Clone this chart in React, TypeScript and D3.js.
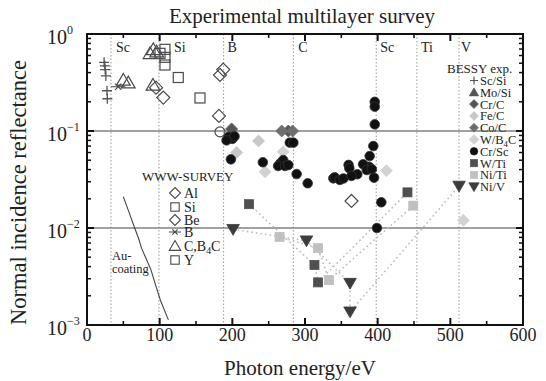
import React from 'react';
import * as d3 from 'd3';

const W = 546, H = 381;
const M = { left: 87, right: 523, top: 34, bottom: 325 };

const xTickValues = [0, 100, 200, 300, 400, 500, 600];
const yDecadeExps = [0, -1, -2, -3];

// absorption edges (eV)
const edgeEnergies = [33, 99, 188, 284, 398, 454, 512];
const edgeLabels = ['Sc', 'Si', 'B', 'C', 'Sc', 'Ti', 'V'];

// WWW-SURVEY (open symbols) [eV, R]
const wwwAl: [number, number][] = [[183, 0.378], [187.5, 0.43], [181.6, 0.143], [364, 0.019]];
const wwwSi: [number, number][] = [[100.5, 0.632], [107.3, 0.575], [107.3, 0.695], [107.3, 0.479], [125.6, 0.356], [155.5, 0.219]];
const wwwBe: [number, number][] = [[105, 0.221], [95, 0.28]];
const wwwB: [number, number][] = [[43, 0.286]];
const wwwCB4C: [number, number][] = [[50, 0.336], [56.8, 0.315], [86.7, 0.632], [91.2, 0.695], [95.9, 0.657], [90.8, 0.298]];
const wwwOther: [number, number][] = [[183, 0.098]];

// Au coating curve
const auE = [50, 55, 60, 65, 71, 75, 81, 88, 95, 101, 112];
const auR = [0.021, 0.0166, 0.0131, 0.0103, 0.0078, 0.0062, 0.0049, 0.0037, 0.0025, 0.0018, 0.00113];

// BESSY experiments [eV, R]
const bScSi: [number, number][] = [[23.5, 0.51], [24.5, 0.47], [25, 0.43], [26, 0.37], [27.5, 0.26], [28, 0.215]];
const bMoSi: [number, number][] = [];
const bCrC: [number, number][] = [[199, 0.105], [277, 0.1]];
const bFeC: [number, number][] = [[236, 0.079], [206, 0.06]];
const bCoC: [number, number][] = [[268, 0.1], [283, 0.1]];
const bWB4C: [number, number][] = [[270, 0.061], [245, 0.038], [412, 0.039], [518, 0.012]];
const bCrSc: [number, number][] = [
  [195, 0.087], [200, 0.083], [203, 0.088], [192, 0.08], [198, 0.051], [242, 0.0476],
  [266, 0.0465], [270, 0.0502], [263, 0.0436], [272.5, 0.0436], [277, 0.0446],
  [279, 0.0758], [284, 0.0758], [288.5, 0.036], [303.7, 0.0289], [339, 0.0325],
  [396, 0.2], [396, 0.178], [396, 0.117], [394, 0.07], [389, 0.0552], [388, 0.0428],
  [380, 0.0454], [385, 0.0396], [392, 0.0404], [395, 0.033], [360, 0.0447], [361, 0.0413],
  [372, 0.0358], [341, 0.0333], [348, 0.0313], [353, 0.0324], [364, 0.0344], [405, 0.0184], [399, 0.01],
];
const bWTi: [number, number][] = [[223, 0.0176], [313, 0.00416], [318, 0.00275], [441, 0.0233]];
const bNiTi: [number, number][] = [[265, 0.0081], [318, 0.0062], [333, 0.0029], [449, 0.017]];
const bNiV: [number, number][] = [[201, 0.0097], [302, 0.0074], [362, 0.0027], [362, 0.00137], [512, 0.0271]];

const wwwLegend = ['Al', 'Si', 'Be', 'B', 'C,B4C', 'Y'];
const bessyLegend = ['Sc/Si', 'Mo/Si', 'Cr/C', 'Fe/C', 'Co/C', 'W/B4C', 'Cr/Sc', 'W/Ti', 'Ni/Ti', 'Ni/V'];

const x = d3.scaleLinear().domain([0, 600]).range([M.left, M.right]);
const y = d3.scaleLog().domain([1e-3, 1]).range([M.bottom, M.top]);

type Shape = 'circle' | 'square' | 'diamond' | 'triUp' | 'triDown' | 'plus' | 'x';

function Marker({ shape, cx, cy, s, fill, stroke, sw = 1.2 }: { shape: Shape; cx: number; cy: number; s: number; fill: string; stroke: string; sw?: number }) {
  switch (shape) {
    case 'circle':
      return <circle cx={cx} cy={cy} r={s} fill={fill} stroke={stroke} strokeWidth={sw} />;
    case 'square':
      return <rect x={cx - s} y={cy - s} width={2 * s} height={2 * s} fill={fill} stroke={stroke} strokeWidth={sw} />;
    case 'diamond':
      return <path d={`M${cx},${cy - s}L${cx + s},${cy}L${cx},${cy + s}L${cx - s},${cy}Z`} fill={fill} stroke={stroke} strokeWidth={sw} />;
    case 'triUp':
      return <path d={`M${cx},${cy - s}L${cx + s * 1.05},${cy + s * 0.8}L${cx - s * 1.05},${cy + s * 0.8}Z`} fill={fill} stroke={stroke} strokeWidth={sw} />;
    case 'triDown':
      return <path d={`M${cx},${cy + s}L${cx + s * 1.05},${cy - s * 0.8}L${cx - s * 1.05},${cy - s * 0.8}Z`} fill={fill} stroke={stroke} strokeWidth={sw} />;
    case 'plus':
      return <path d={`M${cx - s},${cy}H${cx + s}M${cx},${cy - s}V${cy + s}`} fill="none" stroke={stroke} strokeWidth={sw} />;
    case 'x':
      return <path d={`M${cx - s * 0.7},${cy - s * 0.7}L${cx + s * 0.7},${cy + s * 0.7}M${cx - s * 0.7},${cy + s * 0.7}L${cx + s * 0.7},${cy - s * 0.7}M${cx - s * 1.6},${cy}H${cx + s * 1.6}`} fill="none" stroke={stroke} strokeWidth={sw} />;
  }
  return null;
}

const OPEN = '#4a4a4a';

export default function App() {
  const serif = '"Liberation Serif", "DejaVu Serif", serif';
  const minorY: number[] = [];
  for (let k = -3; k < 0; k++) for (let m = 2; m <= 9; m++) minorY.push(m * Math.pow(10, k));
  const minorX = d3.range(50, 600, 100);

  const line = d3.line<[number, number]>().x(d => x(d[0])).y(d => y(d[1]));
  const auPts: [number, number][] = auE.map((e, i) => [e, auR[i]]);

  const edgeDx = [5, 15, 4, 5, 4, 4, 2];

  const wwwSeries: { data: [number, number][]; shape: Shape; s: number }[] = [
    { data: wwwAl, shape: 'diamond', s: 6.5 },
    { data: wwwSi, shape: 'square', s: 5 },
    { data: wwwBe, shape: 'diamond', s: 6.5 },
    { data: wwwB, shape: 'x', s: 4.5 },
    { data: wwwCB4C, shape: 'triUp', s: 6.5 },
    { data: wwwOther, shape: 'circle', s: 5 },
  ];

  const bessySeries: { data: [number, number][]; shape: Shape; s: number; fill: string; stroke: string }[] = [
    { data: bScSi, shape: 'plus', s: 5, fill: 'none', stroke: '#555' },
    { data: bMoSi, shape: 'triUp', s: 5, fill: '#555', stroke: '#555' },
    { data: bFeC, shape: 'diamond', s: 6, fill: '#c8c8c8', stroke: '#c8c8c8' },
    { data: bWB4C, shape: 'diamond', s: 6, fill: '#d2d2d2', stroke: '#d2d2d2' },
    { data: bCrC, shape: 'diamond', s: 6, fill: '#555', stroke: '#555' },
    { data: bCoC, shape: 'diamond', s: 6, fill: '#6e6e6e', stroke: '#6e6e6e' },
    { data: bWTi, shape: 'square', s: 4.5, fill: '#505050', stroke: '#505050' },
    { data: bNiTi, shape: 'square', s: 4.5, fill: '#c0c0c0', stroke: '#c0c0c0' },
    { data: bNiV, shape: 'triDown', s: 6, fill: '#3c3c3c', stroke: '#3c3c3c' },
    { data: bCrSc, shape: 'circle', s: 4.8, fill: '#111', stroke: '#333' },
  ];

  const legendShapes: { shape: Shape; fill: string; stroke: string; s: number }[] = [
    { shape: 'plus', fill: 'none', stroke: '#555', s: 4 },
    { shape: 'triUp', fill: '#555', stroke: '#555', s: 4.5 },
    { shape: 'diamond', fill: '#555', stroke: '#555', s: 4.5 },
    { shape: 'diamond', fill: '#c8c8c8', stroke: '#c8c8c8', s: 4.5 },
    { shape: 'diamond', fill: '#6e6e6e', stroke: '#6e6e6e', s: 4.5 },
    { shape: 'diamond', fill: '#d2d2d2', stroke: '#d2d2d2', s: 5 },
    { shape: 'circle', fill: '#111', stroke: '#111', s: 3.8 },
    { shape: 'square', fill: '#505050', stroke: '#505050', s: 3.7 },
    { shape: 'square', fill: '#c0c0c0', stroke: '#c0c0c0', s: 3.7 },
    { shape: 'triDown', fill: '#3c3c3c', stroke: '#3c3c3c', s: 5 },
  ];
  const wwwLegendShapes: Shape[] = ['diamond', 'square', 'diamond', 'x', 'triUp', 'square'];
  const wwwLegendY = [198, 212, 225, 237, 251, 265];

  const renderSub = (t: string) => {
    const i = t.indexOf('4');
    if (i < 0) return t;
    return (
      <>
        {t.slice(0, i)}
        <tspan fontSize="0.7em" dy={3}>4</tspan>
        <tspan dy={-3}>{t.slice(i + 1)}</tspan>
      </>
    );
  };

  return (
    <svg width={W} height={H} style={{ position: 'absolute', left: 0, top: 0, background: '#fff' }} fontFamily={serif}>
      <rect x={0} y={0} width={W} height={H} fill="#fff" />
      {/* title */}
      <text x={302} y={23} textAnchor="middle" fontSize={21} fill="#222">Experimental multilayer survey</text>

      {/* edges */}
      {edgeEnergies.map((e, i) => (
        <g key={'e' + i}>
          <line x1={x(e)} x2={x(e)} y1={M.top} y2={M.bottom} stroke="#9a9a9a" strokeWidth={1} strokeDasharray="1.5,2" />
          <text x={x(e) + edgeDx[i]} y={52} fontSize={14} fill="#222">{edgeLabels[i]}</text>
        </g>
      ))}

      {/* horizontal reference lines */}
      {[0.1, 0.01].map(v => (
        <line key={'h' + v} x1={M.left} x2={M.right} y1={y(v)} y2={y(v)} stroke="#808080" strokeWidth={1.6} />
      ))}

      {/* dotted series connectors */}
      {[bWTi, bNiTi, bNiV].map((d, i) => (
        <path key={'dl' + i} d={line(d) || ''} fill="none" stroke="#bdbdbd" strokeWidth={1.6} strokeDasharray="1.6,3" />
      ))}

      {/* Au coating */}
      <path d={line(auPts) || ''} fill="none" stroke="#444" strokeWidth={1.1} />
      <text x={112} y={260} fontSize={12.5} fill="#222">Au-</text>
      <text x={112} y={272.5} fontSize={12.5} fill="#222">coating</text>

      {/* WWW survey open markers */}
      {wwwSeries.map((s, i) => s.data.map((d, j) => (
        <Marker key={`w${i}-${j}`} shape={s.shape} cx={x(d[0])} cy={y(d[1])} s={s.s} fill="none" stroke={OPEN} sw={1.2} />
      )))}

      {/* BESSY markers */}
      {bessySeries.map((s, i) => s.data.map((d, j) => (
        <Marker key={`b${i}-${j}`} shape={s.shape} cx={x(d[0])} cy={y(d[1])} s={s.s} fill={s.fill} stroke={s.stroke} sw={s.shape === 'plus' ? 1.3 : 0.8} />
      )))}

      {/* WWW legend */}
      <text x={142} y={181} fontSize={13} fill="#222">WWW-SURVEY</text>
      {wwwLegend.map((t, i) => (
        <g key={'wl' + i}>
          <Marker shape={wwwLegendShapes[i]} cx={175} cy={wwwLegendY[i] - 5} s={wwwLegendShapes[i] === 'x' ? 3.8 : wwwLegendShapes[i] === 'square' ? 4.2 : 5.5} fill="none" stroke={OPEN} sw={1.1} />
          <text x={184} y={wwwLegendY[i]} fontSize={14} fill="#222">{renderSub(t)}</text>
        </g>
      ))}

      {/* BESSY legend */}
      <text x={447} y={73} fontSize={13} fill="#222">BESSY exp.</text>
      {bessyLegend.map((t, i) => {
        const by = 85 + i * 11.8;
        const ls = legendShapes[i];
        return (
          <g key={'bl' + i}>
            <Marker shape={ls.shape} cx={474} cy={by - 4.5} s={ls.s} fill={ls.fill} stroke={ls.stroke} sw={ls.shape === 'plus' ? 1.2 : 0.6} />
            <text x={480} y={by} fontSize={12.5} fill="#222">{renderSub(t)}</text>
          </g>
        );
      })}

      {/* ticks */}
      {xTickValues.map(v => (
        <g key={'xt' + v}>
          <line x1={x(v)} x2={x(v)} y1={M.bottom} y2={M.bottom - 7} stroke="#111" strokeWidth={2} />
          <line x1={x(v)} x2={x(v)} y1={M.top} y2={M.top + 7} stroke="#111" strokeWidth={2} />
          <text x={x(v)} y={341} textAnchor="middle" fontSize={18} fill="#222">{v}</text>
        </g>
      ))}
      {minorX.map(v => (
        <g key={'xm' + v}>
          <line x1={x(v)} x2={x(v)} y1={M.bottom} y2={M.bottom - 4} stroke="#111" strokeWidth={1.6} />
          <line x1={x(v)} x2={x(v)} y1={M.top} y2={M.top + 4} stroke="#111" strokeWidth={1.6} />
        </g>
      ))}
      {yDecadeExps.map(k => {
        const yy = y(Math.pow(10, k));
        return (
          <g key={'yt' + k}>
            <line x1={M.left} x2={M.left + 7} y1={yy} y2={yy} stroke="#111" strokeWidth={2} />
            <line x1={M.right} x2={M.right - 7} y1={yy} y2={yy} stroke="#111" strokeWidth={2} />
            <text x={47} y={yy + 10} fontSize={20} fill="#222">
              10<tspan fontSize={12} dy={-10}>{k === 0 ? '0' : '\u2212' + Math.abs(k)}</tspan>
            </text>
          </g>
        );
      })}
      {minorY.map(v => (
        <g key={'ym' + v}>
          <line x1={M.left} x2={M.left + 4} y1={y(v)} y2={y(v)} stroke="#111" strokeWidth={1.5} />
          <line x1={M.right} x2={M.right - 4} y1={y(v)} y2={y(v)} stroke="#111" strokeWidth={1.5} />
        </g>
      ))}

      {/* frame */}
      <rect x={M.left} y={M.top} width={M.right - M.left} height={M.bottom - M.top} fill="none" stroke="#111" strokeWidth={2} />

      {/* axis labels */}
      <text x={300} y={375} textAnchor="middle" fontSize={21} fill="#222">Photon energy/eV</text>
      <text transform={`translate(26,${(58 + 327) / 2}) rotate(-90)`} textAnchor="middle" fontSize={22.5} fill="#222">Normal incidence reflectance</text>
    </svg>
  );
}
